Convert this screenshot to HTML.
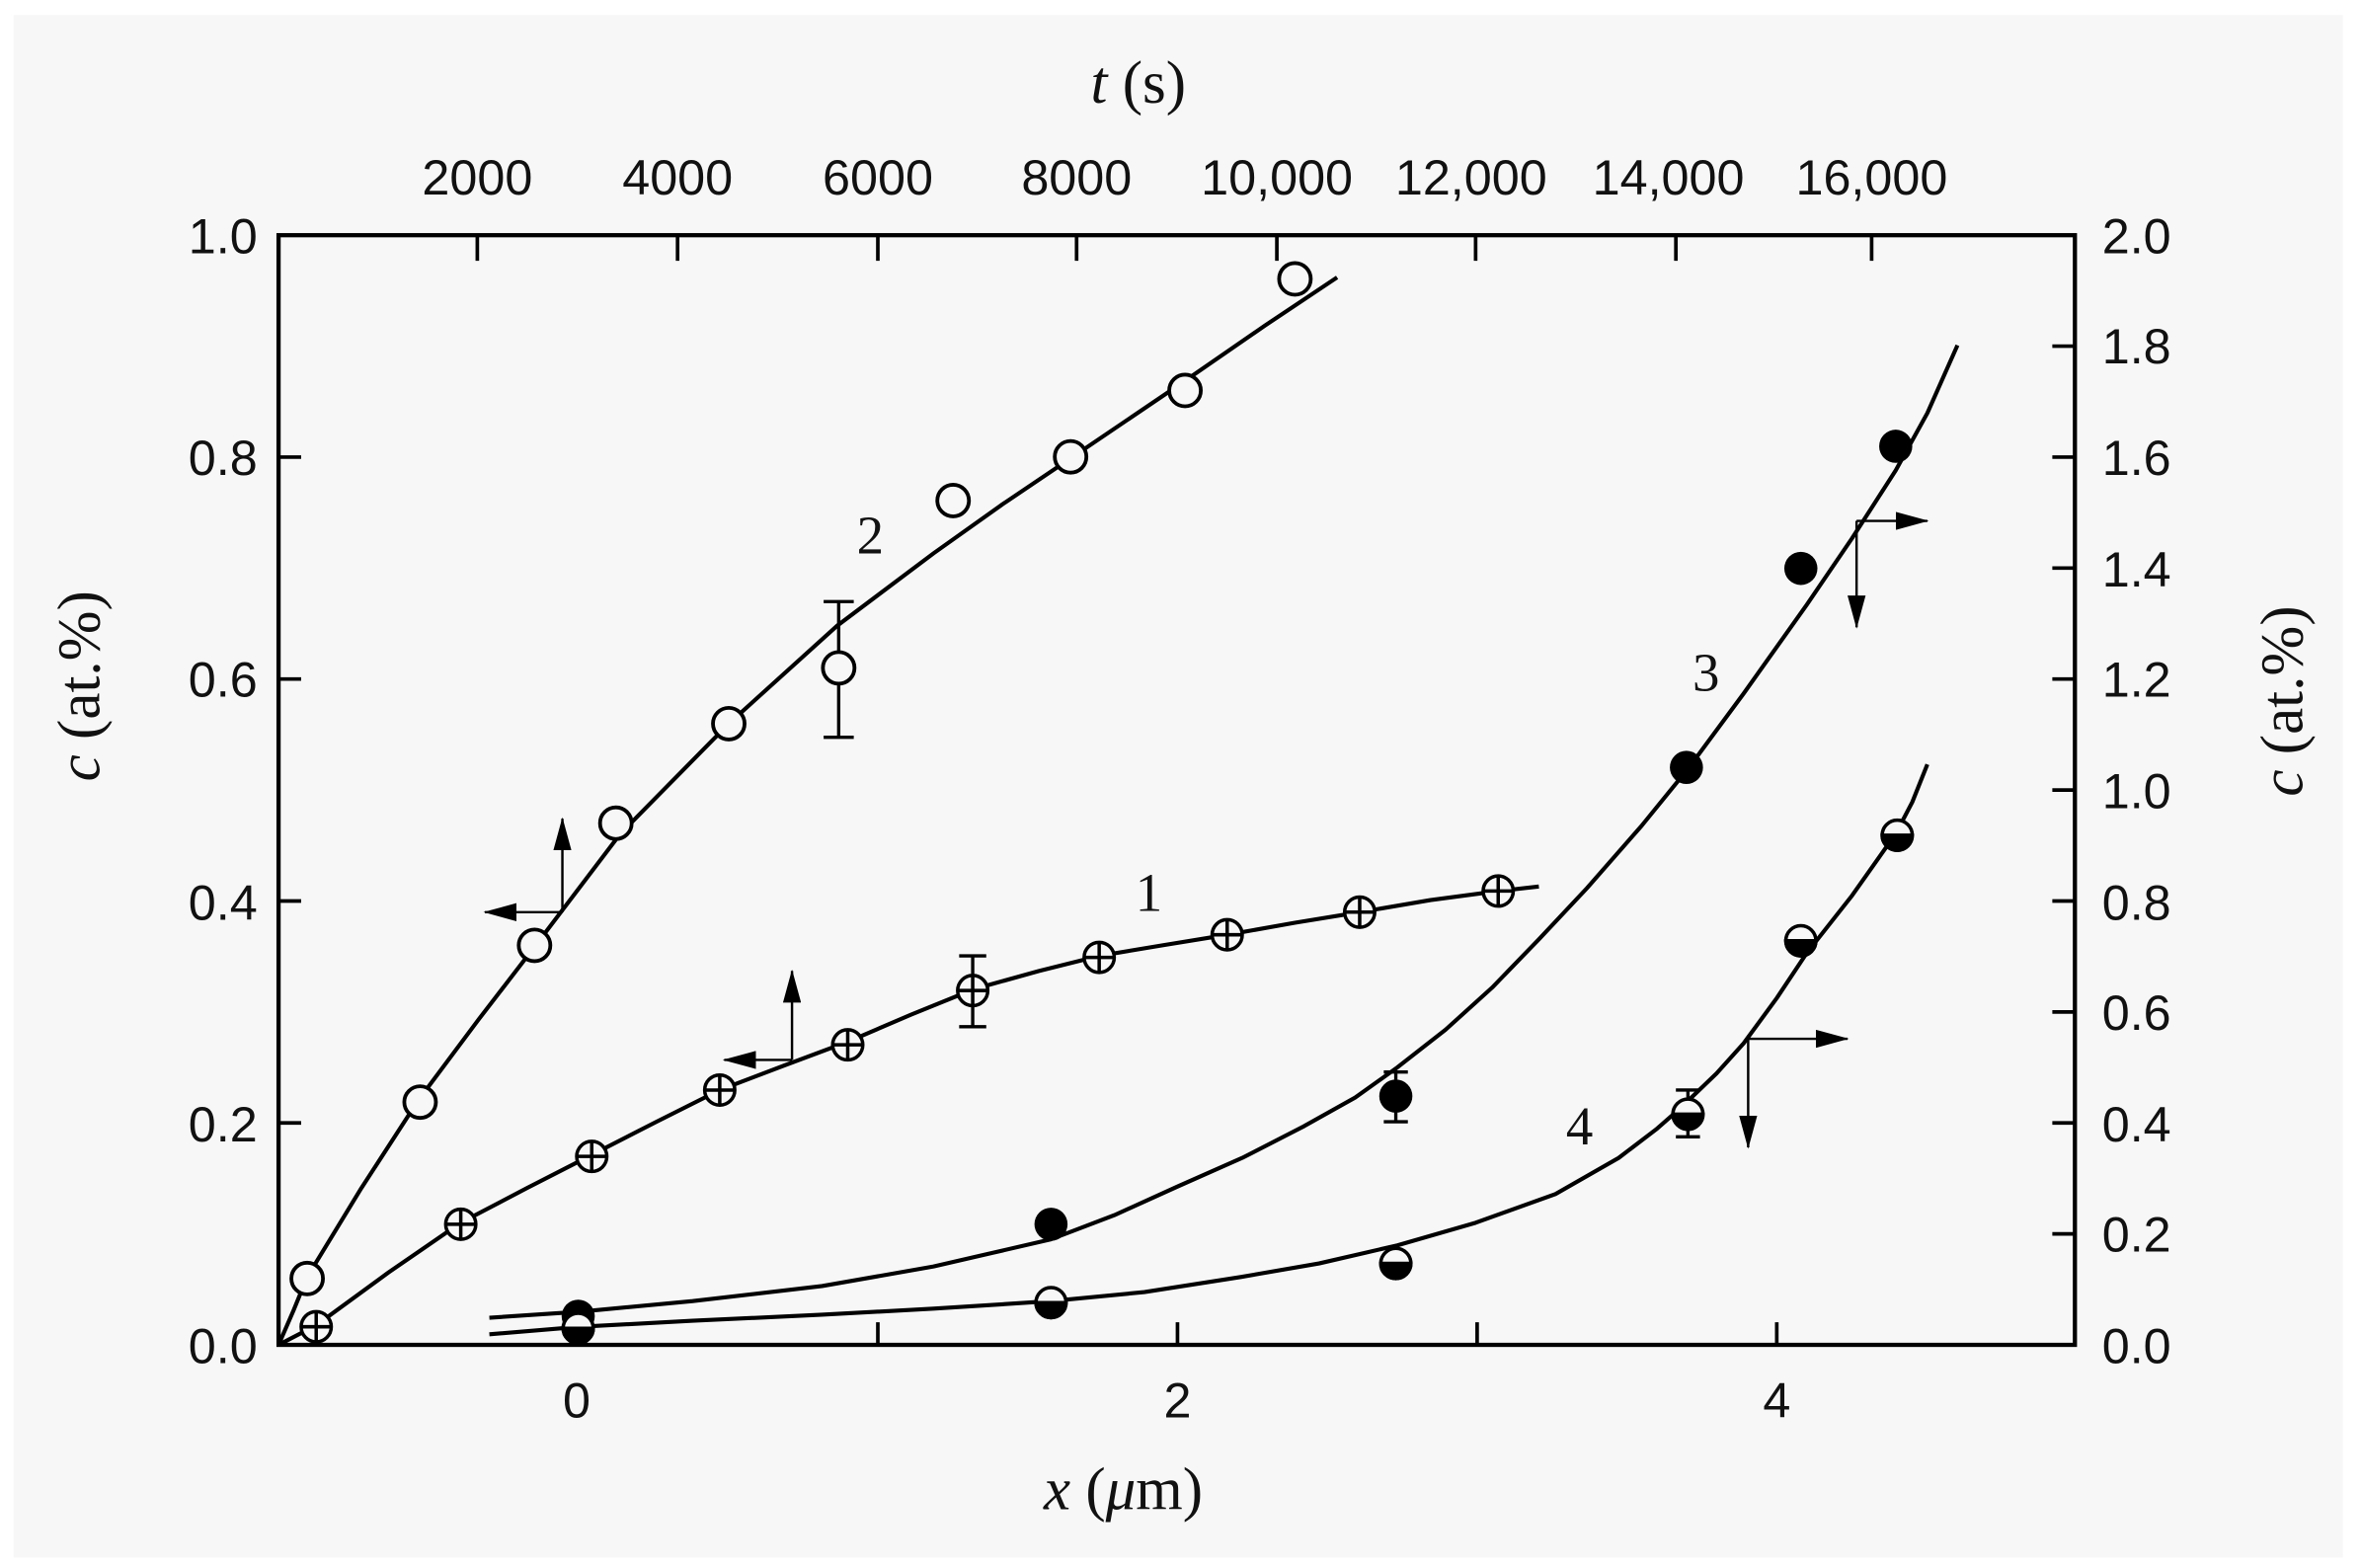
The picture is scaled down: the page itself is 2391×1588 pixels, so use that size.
<!DOCTYPE html>
<html><head><meta charset="utf-8"><style>
html,body{margin:0;padding:0;background:#fff;}
svg{display:block;}
</style></head><body>
<svg width="2391" height="1588" viewBox="0 0 1568 1040" preserveAspectRatio="none" xmlns="http://www.w3.org/2000/svg">
<rect x="0" y="0" width="1568" height="1040" fill="#fff"/>
<rect x="9" y="10" width="1547" height="1023" fill="#f7f7f7"/>
<defs>
<marker id="ah" markerWidth="22" markerHeight="12" refX="21" refY="6" orient="auto" markerUnits="userSpaceOnUse">
<path d="M0,0 L22,6 L0,12 Z" fill="#000"/>
</marker>
</defs>
<g font-family="Liberation Sans, Arial, sans-serif" font-size="33" fill="#111">
<g text-anchor="end">
<text x="171" y="168">1.0</text><text x="171" y="315">0.8</text><text x="171" y="462">0.6</text>
<text x="171" y="610">0.4</text><text x="171" y="757">0.2</text><text x="171" y="904">0.0</text>
</g>
<g text-anchor="start">
<text x="1396" y="168">2.0</text><text x="1396" y="241">1.8</text><text x="1396" y="315">1.6</text>
<text x="1396" y="389">1.4</text><text x="1396" y="462">1.2</text><text x="1396" y="536">1.0</text>
<text x="1396" y="610">0.8</text><text x="1396" y="683">0.6</text><text x="1396" y="757">0.4</text>
<text x="1396" y="830">0.2</text><text x="1396" y="904">0.0</text>
</g>
<g text-anchor="middle">
<text x="383" y="940">0</text><text x="782" y="940">2</text><text x="1180" y="940">4</text>
<text x="317" y="129">2000</text><text x="450" y="129">4000</text><text x="583" y="129">6000</text>
<text x="715" y="129">8000</text><text x="848" y="129">10,000</text><text x="977" y="129">12,000</text>
<text x="1108" y="129">14,000</text><text x="1243" y="129">16,000</text>
</g>
</g>
<g font-family="Liberation Serif, 'Times New Roman', serif" font-size="40" fill="#111" text-anchor="middle">
<text x="756" y="68"><tspan font-style="italic">t</tspan> (s)</text>
<text x="746" y="1001"><tspan font-style="italic">x</tspan> (<tspan font-style="italic">μ</tspan>m)</text>
<text transform="translate(66,455) rotate(-90)"><tspan font-style="italic">c</tspan> (at.%)</text>
<text transform="translate(1529,465) rotate(-90)"><tspan font-style="italic">c</tspan> (at.%)</text>
</g>
<g font-family="Liberation Serif, 'Times New Roman', serif" font-size="36" fill="#111" text-anchor="middle">
<text x="578" y="367">2</text><text x="763" y="604">1</text><text x="1133" y="458">3</text><text x="1049" y="759">4</text>
</g>
<rect x="185" y="156" width="1193" height="736" fill="none" stroke="#000" stroke-width="2.8"/>
<g stroke="#000" stroke-width="2.4">
<path d="M185,303.2h15M185,450.4h15M185,597.6h15M185,744.8h15"/>
<path d="M1378,229.6h-15M1378,303.2h-15M1378,376.8h-15M1378,450.4h-15M1378,524h-15M1378,597.6h-15M1378,671.2h-15M1378,744.8h-15M1378,818.4h-15"/>
<path d="M383,892v-15M583,892v-15M782,892v-15M981,892v-15M1180,892v-15"/>
<path d="M317,156v17M450,156v17M583,156v17M715,156v17M848,156v17M980,156v17M1113,156v17M1243,156v17"/>
</g>
<g fill="none" stroke="#000" stroke-width="2.7" stroke-linejoin="round">
<polyline points="185,892 195,869 204,847 240,788 278,729.5 318,676 355,628 412,553 484,480 556,415 620,367 665,335 711,304 782,256 840,216 888,184"/>
<polyline points="185,892 210,879 258,844 306,811 350,788 393,766 436,744 478,723 520,707 563,691 605,673 647,656 690,644 730,634 772,627 815,620 860,612 903,605 950,597 995,591 1022,588"/>
<polyline points="325,874 385,870 460,863 546,853 620,840 698,822 740,806 782,787 825,768 866,747 900,728 928,708 960,683 991,655 1022,623 1054,589 1090,548 1121,510 1158,460 1200,401 1230,357 1259,312 1280,274 1300,229"/>
<polyline points="325,885 385,880 460,876 546,872 620,868 698,863 760,857 824,847 876,838 928,826 980,811 1033,792 1075,768 1100,749 1116,735 1140,712 1158,692 1180,662 1200,632 1230,594 1259,553 1270,532 1280,507"/>
</g>
<g stroke="#000" stroke-width="2.2" fill="none">
<path d="M557,399V489M547,399h20M547,489h20"/>
<path d="M646,634V681M637,634h18M637,681h18"/>
<path d="M927,711V744M919,711h16M919,744h16"/>
<path d="M1121,723V754M1113,723h16M1113,754h16"/>
</g>
<g stroke="#000" stroke-width="1.6" fill="none" marker-end="url(#ah)">
<path d="M373.5,605V543"/><path d="M373.5,605H322"/>
<path d="M526,703V644"/><path d="M526,703H481"/>
<path d="M1233,345.5H1280"/><path d="M1233,345.5V416"/>
<path d="M1161,689H1227"/><path d="M1161,689V761"/>
</g>
<g fill="#f7f7f7" stroke="#000" stroke-width="2.5">
<circle cx="204" cy="848" r="10.5"/><circle cx="279" cy="731" r="10.5"/><circle cx="355" cy="627" r="10.5"/>
<circle cx="409" cy="546" r="10.5"/><circle cx="484" cy="480" r="10.5"/><circle cx="557" cy="443" r="10.5"/>
<circle cx="633" cy="332" r="10.5"/><circle cx="711" cy="303" r="10.5"/><circle cx="787" cy="259" r="10.5"/>
<circle cx="860" cy="185" r="10.5"/>
</g>
<g fill="#f7f7f7" stroke="#000" stroke-width="2.3">
<g transform="translate(210,880)"><circle r="10"/><path d="M-10,0h20M0,-10v20"/></g>
<g transform="translate(306,812)"><circle r="10"/><path d="M-10,0h20M0,-10v20"/></g>
<g transform="translate(393,767)"><circle r="10"/><path d="M-10,0h20M0,-10v20"/></g>
<g transform="translate(478,723)"><circle r="10"/><path d="M-10,0h20M0,-10v20"/></g>
<g transform="translate(563,693)"><circle r="10"/><path d="M-10,0h20M0,-10v20"/></g>
<g transform="translate(646,657)"><circle r="10"/><path d="M-10,0h20M0,-10v20"/></g>
<g transform="translate(730,635)"><circle r="10"/><path d="M-10,0h20M0,-10v20"/></g>
<g transform="translate(815,620)"><circle r="10"/><path d="M-10,0h20M0,-10v20"/></g>
<g transform="translate(903,605)"><circle r="10"/><path d="M-10,0h20M0,-10v20"/></g>
<g transform="translate(995,591)"><circle r="10"/><path d="M-10,0h20M0,-10v20"/></g>
</g>
<g fill="#000">
<circle cx="384" cy="873" r="11"/><circle cx="698" cy="812" r="11"/><circle cx="927" cy="727" r="11"/>
<circle cx="1120" cy="509" r="11"/><circle cx="1196" cy="377" r="11"/><circle cx="1259" cy="296" r="11"/>
</g>
<g stroke="#000" stroke-width="2.3">
<g transform="translate(384,881)"><circle r="10" fill="#f7f7f7"/><path d="M-10,0A10,10 0 0 0 10,0Z" fill="#000"/></g>
<g transform="translate(698,864)"><circle r="10" fill="#f7f7f7"/><path d="M-10,0A10,10 0 0 0 10,0Z" fill="#000"/></g>
<g transform="translate(927,838)"><circle r="10" fill="#f7f7f7"/><path d="M-10,0A10,10 0 0 0 10,0Z" fill="#000"/></g>
<g transform="translate(1121,739)"><circle r="10" fill="#f7f7f7"/><path d="M-10,0A10,10 0 0 0 10,0Z" fill="#000"/></g>
<g transform="translate(1196,624)"><circle r="10" fill="#f7f7f7"/><path d="M-10,0A10,10 0 0 0 10,0Z" fill="#000"/></g>
<g transform="translate(1260,554)"><circle r="10" fill="#f7f7f7"/><path d="M-10,0A10,10 0 0 0 10,0Z" fill="#000"/></g>
</g>
</svg>
</body></html>
